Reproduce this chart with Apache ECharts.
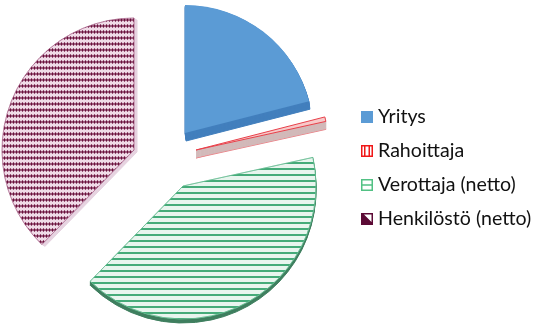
<!DOCTYPE html>
<html><head><meta charset="utf-8">
<style>html,body{margin:0;padding:0;background:#fff}#c{width:534px;height:325px}</style>
<script src="https://cdn.jsdelivr.net/npm/echarts@6/dist/echarts.min.js"></script>
</head><body><div id="c"></div>
<script>
const categories = ['Yritys', 'Rahoittaja', 'Verottaja (netto)', 'Henkilöstö (netto)'];
const shares = [21, 0.55, 40.75, 37.7];

const looks = [
  {center:[185,133], r:128, depth:[1,8], start:90, top:{color:'#5b9bd5'}, under:'#427fbd'},
  {center:[196,150], r:133, depth:[0,8], start:90, top:{color:'#f7c9c9',borderColor:'#e8404a',borderWidth:1}, under:'#d2b9b9', edge:'#ea8a8f'},
  {center:[183,186], r:133, depth:[0,4], start:90, top:{color:'#e8f5ee',borderColor:'#62bb8e',borderWidth:0.6,decal:{symbol:'rect',symbolSize:1,dashArrayX:[1,0],dashArrayY:[2,4],color:'#45ab79',rotation:0}}, under:'#3f7f5f'},
  {center:[134,150], r:132, depth:[3,2], start:90, top:{color:'#f0dce8',borderColor:'#a8648a',borderWidth:0.5,decal:{symbol:'diamond',symbolSize:1,dashArrayX:[3,0],dashArrayY:[4,1.5],color:'#6a103c',rotation:0}}, under:'#e6d3e0'}
];
const hidden = {color:'transparent',borderWidth:0};
function slices(i, style){
  return categories.map((name,k)=>({name, value:shares[k], itemStyle:k===i?style:hidden}));
}
const common = {type:'pie',clockwise:true,silent:true,animation:false,minAngle:0,avoidLabelOverlap:false,
  label:{show:false},labelLine:{show:false},emphasis:{disabled:true}};
const series = [];
looks.forEach((l,i)=>{
  const steps = Math.max(Math.abs(l.depth[0]),Math.abs(l.depth[1]));
  for(let s=steps;s>=1;s--){
    const c=[l.center[0]+l.depth[0]*s/steps,l.center[1]+l.depth[1]*s/steps];
    const st = {color:l.under,borderColor:(s===steps&&l.edge)?l.edge:l.under,borderWidth:1};
    series.push(Object.assign({},common,{center:c,radius:[0,l.r],startAngle:l.start,z:1,data:slices(i,st)}));
  }
});
looks.forEach((l,i)=>series.push(Object.assign({},common,{center:l.center,radius:[0,l.r],startAngle:l.start,z:2,data:slices(i,l.top)})));

const icons = [
 'path://M0 0H12V12H0Z',
 'path://M0 0H12V12H0ZM1.5 1.5V10.5H3V1.5ZM4.5 1.5V10.5H7.5V1.5ZM9 1.5V10.5H10.5V1.5Z',
 'path://M0 0H12V12H0ZM1.5 1.5V5.2H10.5V1.5ZM1.5 6.8V10.5H10.5V6.8Z',
 'path://M0 0H12V12H0ZM3 1.5L10.5 9V1.5Z'
];
const iconColors = ['#5b9bd5','#f01818','#52c184','#5c0a35'];
echarts.init(document.getElementById('c'),null,{renderer:'canvas'}).setOption({
  animation:false,
  legend:{orient:'vertical',left:356,top:102,itemWidth:12,itemHeight:12,itemGap:14,
    textStyle:{fontFamily:'Lato',fontSize:19.6,color:'#111',padding:[0,0,0,0]},
    data:categories.map((name,i)=>({name,icon:icons[i],itemStyle:{color:iconColors[i],borderWidth:0}}))},
  series
});
</script></body></html>
